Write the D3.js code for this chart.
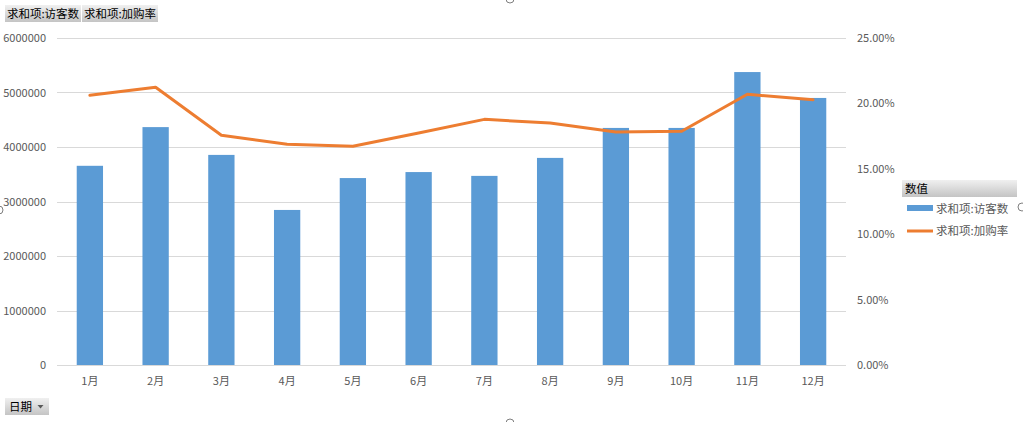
<!DOCTYPE html>
<html><head><meta charset="utf-8">
<script src="https://cdn.jsdelivr.net/npm/d3@7"></script>
<style>
body{margin:0;background:#fff;}
svg{display:block;font-family:"Noto Sans CJK SC","Noto Sans",sans-serif;}
</style></head>
<body><svg id="c" width="1023" height="422"></svg>
<script>
const months = ["1月","2月","3月","4月","5月","6月","7月","8月","9月","10月","11月","12月"];
const visitors = [3655000,4365000,3855000,2845000,3430000,3540000,3470000,3800000,4350000,4350000,5375000,4900000];
const addRate = [0.2062,0.2123,0.1756,0.1687,0.1672,0.1774,0.1878,0.1850,0.1781,0.1787,0.2070,0.2028];
const leftTicks = [0,1000000,2000000,3000000,4000000,5000000,6000000];
const rightTicks = [0,0.05,0.10,0.15,0.20,0.25];
const seriesNames = ["求和项:访客数","求和项:加购率"];
const legendTitle = "数值";
const axisFieldName = "日期";

const svg = d3.select("#c");
const L=57,R=846,T=38,B=365;
const xc = d3.scaleBand().domain(months).range([L,R]);
const yL = d3.scaleLinear().domain([0,6000000]).range([B,T]);
const yR = d3.scaleLinear().domain([0,0.25]).range([B,T]);

// gridlines
svg.append("g").selectAll("line").data(leftTicks).join("line")
  .attr("x1",L).attr("x2",R).attr("y1",d=>Math.round(yL(d))+0.5).attr("y2",d=>Math.round(yL(d))+0.5)
  .attr("stroke","#d9d9d9").attr("stroke-width",1);

// left axis labels
svg.append("g").selectAll("text").data(leftTicks).join("text")
  .attr("x",46).attr("y",d=>yL(d)+4).attr("text-anchor","end")
  .attr("font-size",11).attr("fill","#595959").text(d=>d);
// right axis labels
svg.append("g").selectAll("text").data(rightTicks).join("text")
  .attr("x",857).attr("y",d=>yR(d)+4).attr("text-anchor","start")
  .attr("font-size",11).attr("fill","#595959").text(d=>(d*100).toFixed(2)+"%");

// bars
const bw = xc.bandwidth()/2.5;
svg.append("g").selectAll("rect").data(visitors).join("rect")
  .attr("x",(d,i)=>xc(months[i])+xc.bandwidth()/2-bw/2)
  .attr("width",bw)
  .attr("y",d=>yL(d)).attr("height",d=>B-yL(d))
  .attr("fill","#5b9bd5");

// line
svg.append("path").datum(addRate)
  .attr("d",d3.line().x((d,i)=>xc(months[i])+xc.bandwidth()/2).y(d=>yR(d)))
  .attr("fill","none").attr("stroke","#ed7d31").attr("stroke-width",3)
  .attr("stroke-linejoin","round").attr("stroke-linecap","round");

// x labels
svg.append("g").selectAll("text").data(months).join("text")
  .attr("x",d=>xc(d)+xc.bandwidth()/2).attr("y",385).attr("text-anchor","middle")
  .attr("font-size",11).attr("fill","#595959").text(d=>d);

// gradient for buttons
const defs = svg.append("defs");
const g = defs.append("linearGradient").attr("id","btn").attr("x1",0).attr("y1",0).attr("x2",0).attr("y2",1);
g.append("stop").attr("offset","0%").attr("stop-color","#f0f0f0");
g.append("stop").attr("offset","100%").attr("stop-color","#c4c4c4");

// top field buttons
const btns=[{x:5,w:76,t:seriesNames[0]},{x:82,w:76,t:seriesNames[1]}];
btns.forEach(b=>{
  svg.append("rect").attr("x",b.x).attr("y",5).attr("width",b.w).attr("height",17).attr("fill","url(#btn)");
  svg.append("text").attr("x",b.x+b.w/2).attr("y",18).attr("text-anchor","middle").attr("font-size",11.5).attr("fill","#000").text(b.t);
});
// date button
svg.append("rect").attr("x",5).attr("y",398).attr("width",44).attr("height",17).attr("fill","url(#btn)");
svg.append("text").attr("x",9).attr("y",411).attr("font-size",11.5).attr("fill","#000").text(axisFieldName);
svg.append("path").attr("d","M37.5,405 L43.5,405 L40.5,408.5 Z").attr("fill","#595959");

// legend
svg.append("rect").attr("x",902).attr("y",180).attr("width",115).attr("height",17).attr("fill","url(#btn)");
svg.append("text").attr("x",905).attr("y",193).attr("font-size",11.5).attr("fill","#000").text(legendTitle);
svg.append("rect").attr("x",907).attr("y",205).attr("width",26).attr("height",6).attr("fill","#5b9bd5");
svg.append("text").attr("x",936).attr("y",213).attr("font-size",11.5).attr("fill","#595959").text(seriesNames[0]);
svg.append("line").attr("x1",907).attr("x2",933).attr("y1",231).attr("y2",231).attr("stroke","#ed7d31").attr("stroke-width",3);
svg.append("text").attr("x",936).attr("y",235).attr("font-size",11.5).attr("fill","#595959").text(seriesNames[1]);

// selection handles
[[510,-1],[510,423],[-1,210],[1022,207]].forEach(p=>{
  svg.append("circle").attr("cx",p[0]).attr("cy",p[1]).attr("r",4).attr("fill","#fff").attr("stroke","#7f7f7f").attr("stroke-width",1);
});
</script></body></html>
